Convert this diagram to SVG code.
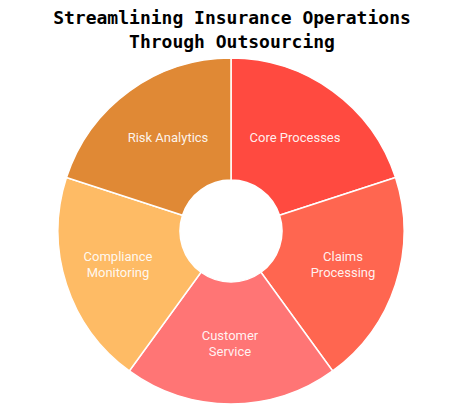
<svg xmlns="http://www.w3.org/2000/svg" width="467" height="412" viewBox="0 0 467 412">
<style>
.seg{stroke:#fff;stroke-width:1.5}
.title{font-family:"DejaVu Sans Mono","Liberation Mono",monospace;font-weight:bold;font-size:18px;fill:#000;text-anchor:middle}
.lbl{font-family:Roboto,"Liberation Sans",sans-serif;font-size:13px;fill:#fff;fill-opacity:0.92;text-anchor:middle}
</style>
<rect width="467" height="412" fill="#fff"/>
<g id="title">
<text class="title" x="232" y="23.5">Streamlining Insurance Operations</text>
<text class="title" x="232" y="48">Through Outsourcing</text>
</g>
<g id="core-processes">
<path class="seg" fill="#FF4A40" d="M231 58 A173 173 0 0 1 395.53 177.54 L279.5 215.24 A51 51 0 0 0 231 180 Z"/>
<text class="lbl" x="295" y="141.5">Core Processes</text>
</g>
<g id="claims-processing">
<path class="seg" fill="#FF6650" d="M395.53 177.54 A173 173 0 0 1 332.69 370.96 L260.98 272.26 A51 51 0 0 0 279.5 215.24 Z"/>
<text class="lbl" x="343" y="260.5">Claims</text>
<text class="lbl" x="343" y="276.5">Processing</text>
</g>
<g id="customer-service">
<path class="seg" fill="#FF7575" d="M332.69 370.96 A173 173 0 0 1 129.31 370.96 L201.02 272.26 A51 51 0 0 0 260.98 272.26 Z"/>
<text class="lbl" x="230" y="339.5">Customer</text>
<text class="lbl" x="230" y="355.5">Service</text>
</g>
<g id="compliance-monitoring">
<path class="seg" fill="#FEBB65" d="M129.31 370.96 A173 173 0 0 1 66.47 177.54 L182.5 215.24 A51 51 0 0 0 201.02 272.26 Z"/>
<text class="lbl" x="118" y="260.5">Compliance</text>
<text class="lbl" x="118" y="276.5">Monitoring</text>
</g>
<g id="risk-analytics">
<path class="seg" fill="#E08935" d="M66.47 177.54 A173 173 0 0 1 231 58 L231 180 A51 51 0 0 0 182.5 215.24 Z"/>
<text class="lbl" x="168" y="141.5">Risk Analytics</text>
</g>
<g id="connectors"></g>
</svg>
